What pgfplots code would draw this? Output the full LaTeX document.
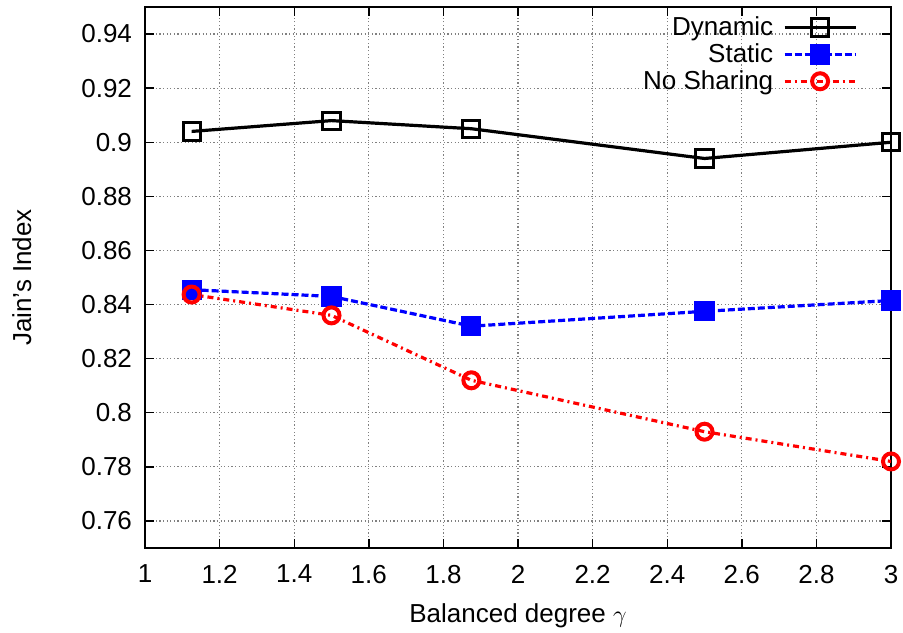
\documentclass[border=0pt]{standalone}
\usepackage{fontspec}
\setmainfont{Liberation Sans}
\usepackage{pgfplots}
\pgfplotsset{compat=1.18}
\begin{document}
\begin{tikzpicture}
\begin{axis}[
  name=ax,
  scale only axis,
  width=373pt, height=270.5pt,
  xmin=1, xmax=3, ymin=0.75, ymax=0.95,
  xtick={1,1.2,...,3.01},
  ytick={0.76,0.78,...,0.941},
  xticklabels={1,1.2,1.4,1.6,1.8,2,2.2,2.4,2.6,2.8,3},
  yticklabels={0.76,0.78,0.8,0.82,0.84,0.86,0.88,0.9,0.92,0.94},
  tick align=inside,
  tick pos=both,
  major tick length=4.5pt,
  grid=major,
  major grid style={gray, dash pattern=on 0.6pt off 1.2pt, line width=0.6pt},
  axis line style={black, line width=0.9pt},
  tick style={black, line width=0.7pt},
  every tick label/.append style={font=\fontsize{13}{15}\selectfont},
  yticklabel style={xshift=-3pt},
  xticklabel style={yshift=-5pt},
  /pgf/number format/assume math mode=true,
  xlabel={Balanced degree $\gamma$},
  ylabel={Jain's Index},
  label style={font=\fontsize{13}{15}\selectfont},
  xlabel style={at={(axis description cs:0.5,-0.126)}, anchor=center},
  ylabel style={at={(axis description cs:-0.165,0.5)}, anchor=center},
  legend style={draw=none, fill=none, at={(0.958,0.994)}, anchor=north east,
    font=\fontsize{13}{15}\selectfont, legend cell align=right, row sep=-1.5pt,
    inner sep=1pt},
  legend plot pos=right,
  legend image code/.code={
    \path (0cm,0cm);
    \draw[#1] (0.1cm,0cm) -- (1.35cm,0cm);
    \draw[#1,only marks] plot coordinates {(0.725cm,0cm)};
  },
]
\addplot[black, line width=1.6pt, mark=square, mark size=4.3pt, mark options={solid, line width=1.5pt}]
  coordinates {(1.125,0.904) (1.5,0.908) (1.875,0.905) (2.5,0.894) (3,0.900)};
\addlegendentry{Dynamic}
\addplot[blue, line width=1.6pt, dash pattern=on 3.5pt off 1.5pt, mark=square*, mark size=4.25pt, mark options={solid}]
  coordinates {(1.125,0.8455) (1.5,0.843) (1.875,0.832) (2.5,0.8375) (3,0.8415)};
\addlegendentry{Static}
\addplot[red, line width=1.6pt, dash pattern=on 3pt off 2pt on 1pt off 2pt, mark=o, mark size=4pt, mark options={solid, line width=2pt}]
  coordinates {(1.125,0.8437) (1.5,0.836) (1.875,0.812) (2.5,0.793) (3,0.782)};
\addlegendentry{No Sharing}
\end{axis}
\pgfresetboundingbox
\path[use as bounding box] ([xshift=-72.5pt,yshift=-42pt]ax.south west) rectangle ([xshift=6pt,yshift=3.5pt]ax.north east);
\end{tikzpicture}
\end{document}
